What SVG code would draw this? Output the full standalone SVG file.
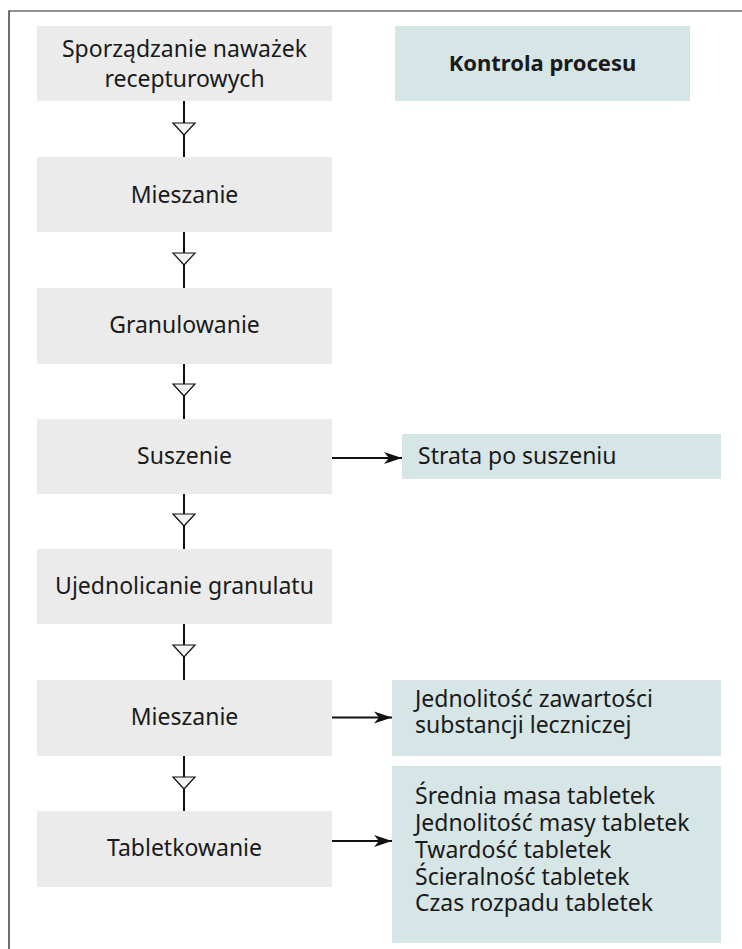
<svg xmlns="http://www.w3.org/2000/svg" width="742" height="949" viewBox="0 0 742 949">
<style>
.p{fill:#ebebeb}
.c{fill:#d6e5e5}
text{font-family:"Noto Sans","Open Sans","Liberation Sans",sans-serif;font-size:23px;fill:#1a1a1a}
.m{text-anchor:middle}
.b{font-weight:bold;font-size:22px}
.ln{stroke:#111;stroke-width:2;fill:none}
.tri{fill:#f2f2f2;stroke:#111;stroke-width:1.2}
</style>
<defs>
<marker id="ah" markerUnits="userSpaceOnUse" markerWidth="20" markerHeight="14" refX="18" refY="7" orient="auto">
<path d="M0,1 L18,7 L0,13 L5,7 Z" fill="#111"/>
</marker>
<polygon id="tr" class="tri" points="-11,0 11,0 0,12"/>
</defs>
<rect width="742" height="949" fill="#fff"/>
<g id="frame">
<line x1="9" y1="11" x2="742" y2="11" stroke="#6e6e6e" stroke-width="1.5"/>
<line x1="9" y1="10.5" x2="9" y2="949" stroke="#222" stroke-width="1.3"/>
</g>
<g id="connectors">
<line class="ln" x1="184" y1="101" x2="184" y2="157"/>
<line class="ln" x1="184" y1="232" x2="184" y2="288"/>
<line class="ln" x1="184" y1="364" x2="184" y2="419"/>
<line class="ln" x1="184" y1="494" x2="184" y2="549"/>
<line class="ln" x1="184" y1="624" x2="184" y2="680"/>
<line class="ln" x1="184" y1="756" x2="184" y2="811"/>
<use href="#tr" x="184" y="123"/>
<use href="#tr" x="184" y="253"/>
<use href="#tr" x="184" y="384"/>
<use href="#tr" x="184" y="514"/>
<use href="#tr" x="184" y="645"/>
<use href="#tr" x="184" y="777"/>
<line class="ln" x1="332" y1="458" x2="402" y2="458" marker-end="url(#ah)"/>
<line class="ln" x1="332" y1="717.5" x2="392" y2="717.5" marker-end="url(#ah)"/>
<line class="ln" x1="332" y1="841" x2="392" y2="841" marker-end="url(#ah)"/>
</g>
<g id="n1"><rect class="p" x="37" y="26" width="295" height="75"/>
<text class="m" x="184.5" y="57">Sporządzanie naważek</text>
<text class="m" x="184.5" y="87">recepturowych</text></g>
<g id="header"><rect class="c" x="395" y="26" width="295" height="75"/>
<text class="m b" x="542.5" y="71">Kontrola procesu</text></g>
<g id="n2"><rect class="p" x="37" y="157" width="295" height="75"/>
<text class="m" x="184.5" y="203">Mieszanie</text></g>
<g id="n3"><rect class="p" x="37" y="288" width="295" height="76"/>
<text class="m" x="184.5" y="333">Granulowanie</text></g>
<g id="n4"><rect class="p" x="37" y="419" width="295" height="75"/>
<text class="m" x="184.5" y="464">Suszenie</text></g>
<g id="n5"><rect class="p" x="37" y="549" width="295" height="75"/>
<text class="m" x="184.5" y="594">Ujednolicanie granulatu</text></g>
<g id="n6"><rect class="p" x="37" y="680" width="295" height="76"/>
<text class="m" x="184.5" y="725">Mieszanie</text></g>
<g id="n7"><rect class="p" x="37" y="811" width="295" height="76"/>
<text class="m" x="184.5" y="856">Tabletkowanie</text></g>
<g id="k1"><rect class="c" x="402" y="434" width="319" height="45"/>
<text x="418" y="464">Strata po suszeniu</text></g>
<g id="k2"><rect class="c" x="392" y="680" width="329" height="76"/>
<text x="415" y="707">Jednolitość zawartości</text>
<text x="415" y="733">substancji leczniczej</text></g>
<g id="k3"><rect class="c" x="392" y="766" width="329" height="177"/>
<text x="415" y="804">Średnia masa tabletek</text>
<text x="415" y="831">Jednolitość masy tabletek</text>
<text x="415" y="858">Twardość tabletek</text>
<text x="415" y="885">Ścieralność tabletek</text>
<text x="415" y="911">Czas rozpadu tabletek</text></g>
</svg>
